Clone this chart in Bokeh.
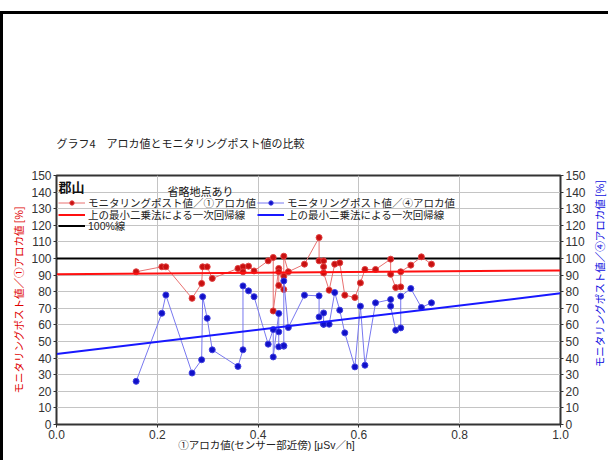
from bokeh.plotting import figure
from bokeh.layouts import row
from bokeh.models import (Range1d, LinearAxis, FixedTicker, Legend, LegendItem,
                          Label, NumeralTickFormatter)
from bokeh.embed import file_html
from bokeh.resources import INLINE

# ---- data ----
aloka1 = [0.158, 0.209, 0.217, 0.269, 0.288, 0.290, 0.299, 0.309, 0.360, 0.370,
          0.370, 0.381, 0.392, 0.420, 0.430, 0.430, 0.441, 0.441, 0.441, 0.451,
          0.451, 0.451, 0.460, 0.492, 0.521, 0.521, 0.530, 0.530, 0.530, 0.541,
          0.552, 0.562, 0.572, 0.592, 0.603, 0.612, 0.633, 0.663, 0.663, 0.673,
          0.683, 0.683, 0.703, 0.724, 0.744]
mp_over_1 = [92.0, 95.0, 95.0, 76.0, 85.0, 95.0, 95.0, 88.0, 94.0, 95.0,
             92.0, 95.4, 92.5, 98.6, 100.6, 68.4, 94.0, 92.0, 83.8, 81.3,
             89.3, 101.4, 92.0, 96.6, 112.6, 98.6, 98.6, 95.0, 91.3, 80.9,
             96.6, 97.4, 77.9, 76.5, 85.3, 93.4, 93.4, 99.6, 90.5, 82.5,
             82.9, 92.0, 96.0, 101.0, 96.6]
mp_over_4 = [26.0, 67.0, 78.0, 31.0, 39.0, 77.0, 64.0, 45.0, 35.0, 45.0,
             83.5, 80.5, 77.0, 48.4, 57.2, 40.7, 66.9, 55.8, 46.8, 47.2,
             47.5, 86.5, 58.4, 77.9, 77.5, 64.8, 67.2, 60.4, 60.4, 60.4,
             79.5, 68.9, 55.2, 34.7, 71.3, 35.7, 73.3, 75.3, 71.3, 56.8,
             58.2, 77.3, 81.9, 70.5, 73.3]
reg_x = [0.0, 1.0]
reg_red = [90.5, 92.8]
reg_blue = [42.5, 79.0]
line100_y = [100.0, 100.0]
x_ticks = [0.0, 0.2, 0.4, 0.6, 0.8, 1.0]
y_ticks = list(range(0, 151, 10))

JP = "Noto Sans CJK JP"
MIX = "Liberation Sans, Noto Sans CJK JP"
NUM = "Liberation Sans"
SP = "\u3000"

TOP, BOT, H = 161, 36, 446

p = figure(width=585, height=H, x_range=Range1d(0, 1), y_range=Range1d(0, 150),
           output_backend="svg", toolbar_location=None,
           min_border_left=53, min_border_right=24, min_border_top=TOP,
           min_border_bottom=BOT)
p.background_fill_color = "white"
p.border_fill_color = "white"
p.outline_line_color = "#333333"
p.outline_line_width = 2

# title
p.title.text = "グラフ4　アロカ値とモニタリングポスト値の比較"
p.title.text_font = JP
p.title.text_font_size = "11px"
p.title.text_font_style = "normal"
p.title.text_color = "#222222"
p.title.align = "left"
p.title.standoff = 50

# grid
p.xgrid.ticker = FixedTicker(ticks=x_ticks)
p.ygrid.ticker = FixedTicker(ticks=y_ticks)
p.grid.grid_line_color = "#c4c4c4"
p.grid.grid_line_width = 1

# axes
right = LinearAxis()
p.add_layout(right, "right")
for ax in p.yaxis:
    ax.ticker = FixedTicker(ticks=y_ticks)
for ax in p.axis:
    ax.major_label_text_font = NUM
    ax.major_label_text_font_size = "12px"
    ax.major_label_text_color = "#333333"
    ax.major_tick_in = 0
    ax.major_tick_out = 3
    ax.minor_tick_line_color = None
    ax.axis_line_color = "#333333"
    ax.axis_line_width = 1
    ax.major_tick_line_color = "#333333"
    ax.major_label_standoff = 2
p.xaxis.ticker = FixedTicker(ticks=x_ticks)
p.xaxis.formatter = NumeralTickFormatter(format="0.0")
p.xaxis.axis_label = "①アロカ値(センサー部近傍) [μSv／h]" + SP * 8
p.xaxis.axis_label_text_font = MIX
p.xaxis.axis_label_text_font_size = "10.5px"
p.xaxis.axis_label_text_font_style = "normal"
p.xaxis.axis_label_text_color = "#222222"
p.xaxis.axis_label_standoff = -3

left = p.yaxis[0]
left.axis_label = "モニタリングポスト値／①アロカ値 [%]"
left.axis_label_text_color = "#e00000"
left.axis_label_text_font = JP
left.axis_label_text_font_size = "10.5px"
left.axis_label_text_font_style = "normal"
left.axis_label_standoff = 2

# lines
r100 = p.line(reg_x, line100_y, line_color="#000000", line_width=2)
rl = p.line(aloka1, mp_over_1, line_color="#e87070", line_width=1)
rs = p.scatter(aloka1, mp_over_1, size=6, fill_color="#c81010", line_color="#e04040", line_width=1)
bl = p.line(aloka1, mp_over_4, line_color="#7878f0", line_width=1)
bs = p.scatter(aloka1, mp_over_4, size=6, fill_color="#1010c8", line_color="#4040e0", line_width=1)
rreg = p.line(reg_x, reg_red, line_color="#ff1010", line_width=2)
breg = p.line(reg_x, reg_blue, line_color="#1818ff", line_width=2)

# header texts
p.add_layout(Label(x=0.004, y=143.5, text="郡山", text_font=JP, text_font_size="13px",
                   text_font_style="bold", text_color="#111111", text_baseline="middle"))
p.add_layout(Label(x=0.22, y=140.5, text="省略地点あり", text_font=JP, text_font_size="11px",
                   text_color="#111111", text_baseline="middle"))


def add_legend_row(label, renderers, loc):
    lg = Legend(items=[LegendItem(label=label, renderers=renderers)], location=loc)
    lg.background_fill_alpha = 0
    lg.border_line_alpha = 0
    lg.padding = 0
    lg.margin = 0
    lg.spacing = 0
    lg.glyph_width = 27
    lg.glyph_height = 11
    lg.label_height = 11
    lg.label_standoff = 3
    lg.label_text_font = MIX
    lg.label_text_font_size = "10.5px"
    lg.label_text_color = "#222222"
    p.add_layout(lg)


# legend laid out as a grid of rows (one legend per cell)
add_legend_row("モニタリングポスト値／①アロカ値", [rl, rs], (2, 214))
add_legend_row("上の最小二乗法による一次回帰線", [rreg], (2, 202))
add_legend_row("100%線", [r100], (2, 191))
add_legend_row("モニタリングポスト値／④アロカ値", [bl, bs], (201, 214))
add_legend_row("上の最小二乗法による一次回帰線", [breg], (201, 202))

# narrow companion figure carrying the right-hand (blue) axis title
p2 = figure(width=20, height=H, x_range=Range1d(0, 1), y_range=Range1d(0, 150),
            output_backend="svg", toolbar_location=None,
            min_border_left=17, min_border_right=0, min_border_top=TOP,
            min_border_bottom=BOT)
p2.outline_line_color = None
p2.grid.visible = False
p2.xaxis.visible = False
p2.background_fill_color = "white"
p2.border_fill_color = "white"
ax2 = p2.yaxis[0]
ax2.ticker = FixedTicker(ticks=[])
ax2.axis_line_color = None
ax2.major_tick_line_color = None
ax2.minor_tick_line_color = None
ax2.major_label_text_font_size = "0px"
ax2.axis_label = SP * 5 + "モニタリングポスト値／④アロカ値 [%]"
ax2.axis_label_text_color = "#1010e0"
ax2.axis_label_text_font = JP
ax2.axis_label_text_font_size = "10.5px"
ax2.axis_label_text_font_style = "normal"
ax2.axis_label_standoff = 0

layout = row(p, p2)
layout.styles = {"border-left": "3px solid #000", "border-top": "3px solid #000",
                 "margin-top": "11px"}

open("out.html", "w").write(file_html(layout, INLINE))
